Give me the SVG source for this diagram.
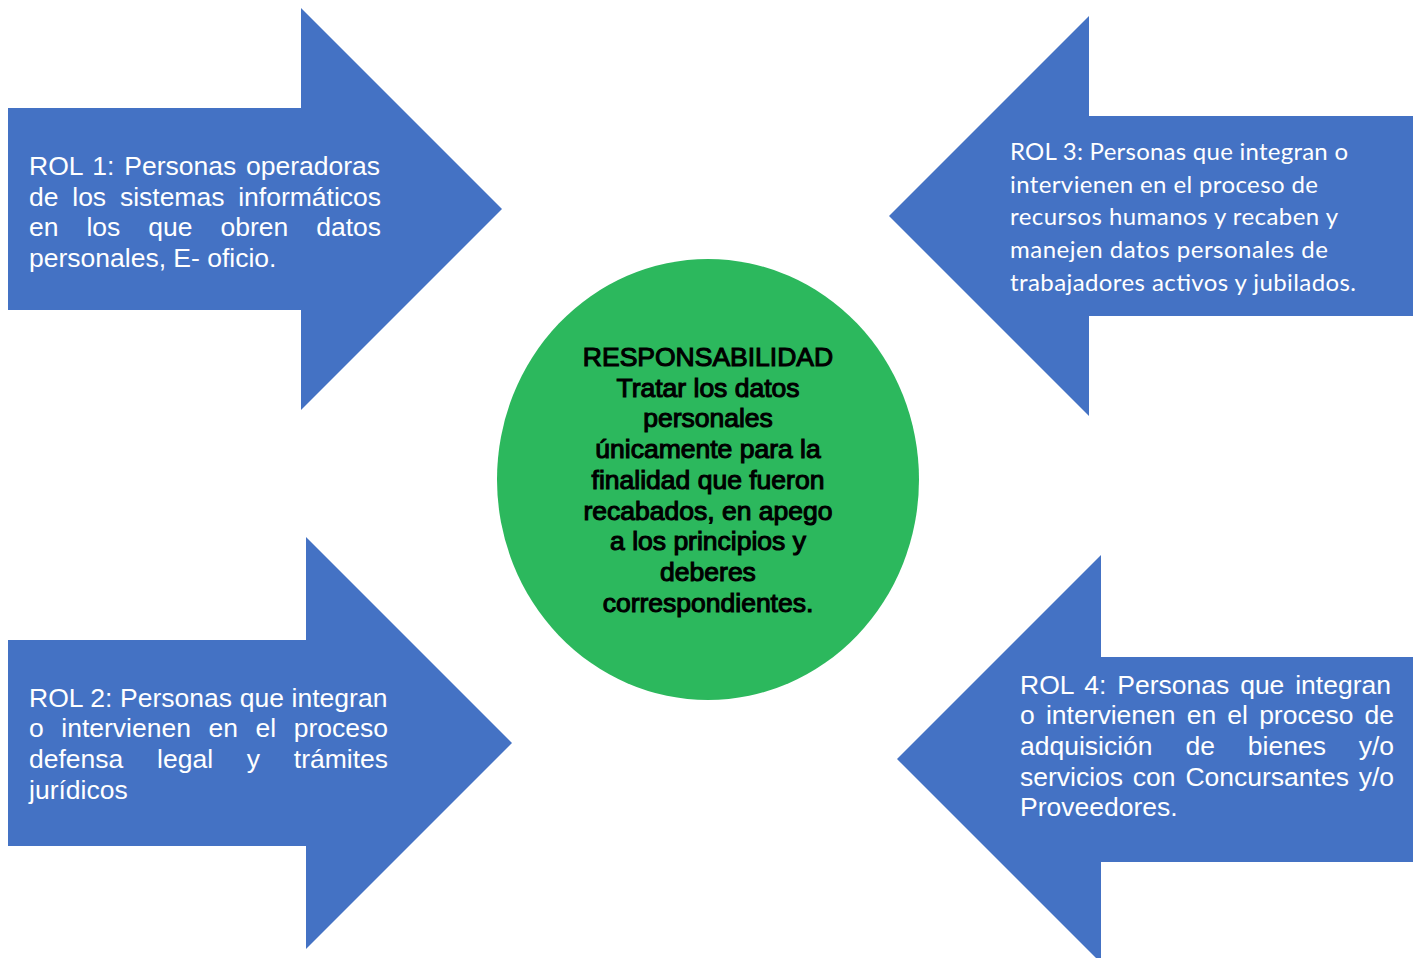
<svg xmlns="http://www.w3.org/2000/svg" width="1418" height="958" viewBox="0 0 1418 958">
<style>
.arrow{fill:#4472C4;}
.rol{font-family:"Liberation Sans",Arial,sans-serif;font-size:26.5px;fill:#ffffff;}
.rol3{font-family:Lato,"Liberation Sans",sans-serif;font-size:24px;fill:#ffffff;}
.center{font-family:"Liberation Sans",Arial,sans-serif;font-size:26.5px;fill:#000000;stroke:#000000;stroke-width:1.1px;text-anchor:middle;}
</style>
<rect width="1418" height="958" fill="#ffffff"/>
<g id="rol1">
<path class="arrow" d="M8,108 H301 V8 L502,209 L301,410 V310 H8 Z"/>
<text class="rol"><tspan x="29" y="175" word-spacing="2.45">ROL 1: Personas operadoras</tspan><tspan x="29" y="205.7" word-spacing="6.4">de los sistemas informáticos</tspan><tspan x="29" y="236.4" word-spacing="20.6">en los que obren datos</tspan><tspan x="29" y="267.1">personales, E- oficio.</tspan></text>
</g>
<g id="rol2">
<path class="arrow" d="M8,640 H306 V537 L512,743 L306,949 V846 H8 Z"/>
<text class="rol"><tspan x="29" y="706.7" word-spacing="0.35">ROL 2: Personas que integran</tspan><tspan x="29" y="737.4" word-spacing="10.2">o intervienen en el proceso</tspan><tspan x="29" y="768.1" word-spacing="26.4">defensa legal y trámites</tspan><tspan x="29" y="798.8">jurídicos</tspan></text>
</g>
<g id="rol3">
<path class="arrow" d="M1413,116 H1089 V16 L889,216 L1089,416 V316 H1413 Z"/>
<text class="rol3"><tspan x="1010" y="160" textLength="338" lengthAdjust="spacing">ROL 3: Personas que integran o</tspan></text>
<text class="rol3"><tspan x="1010" y="192.7" textLength="308" lengthAdjust="spacing">intervienen en el proceso de</tspan></text>
<text class="rol3"><tspan x="1010" y="225.4" textLength="328" lengthAdjust="spacing">recursos humanos y recaben y</tspan></text>
<text class="rol3"><tspan x="1010" y="258.1" textLength="318" lengthAdjust="spacing">manejen datos personales de</tspan></text>
<text class="rol3"><tspan x="1010" y="290.8" textLength="346" lengthAdjust="spacing">trabajadores activos y jubilados.</tspan></text>
</g>
<g id="rol4">
<path class="arrow" d="M1413,657 H1101 V555 L897,759 L1101,963 V862 H1413 Z"/>
<text class="rol"><tspan x="1020" y="693.5" word-spacing="3.5">ROL 4: Personas que integran</tspan><tspan x="1020" y="724.2" word-spacing="3.8">o intervienen en el proceso de</tspan><tspan x="1020" y="754.9" word-spacing="25.5">adquisición de bienes y/o</tspan><tspan x="1020" y="785.6" word-spacing="2.43">servicios con Concursantes y/o</tspan><tspan x="1020" y="816.3">Proveedores.</tspan></text>
</g>
<g id="responsabilidad">
<ellipse cx="708" cy="479.5" rx="211" ry="220.5" fill="#2CB85D"/>
<text class="center"><tspan x="708" y="366">RESPONSABILIDAD</tspan><tspan x="708" y="396.7">Tratar los datos</tspan><tspan x="708" y="427.4">personales</tspan><tspan x="708" y="458.1">únicamente para la</tspan><tspan x="708" y="488.8">finalidad que fueron</tspan><tspan x="708" y="519.5">recabados, en apego</tspan><tspan x="708" y="550.2">a los principios y</tspan><tspan x="708" y="580.9">deberes</tspan><tspan x="708" y="611.6">correspondientes.</tspan></text>
</g>
<g id="connectors"/>
</svg>
